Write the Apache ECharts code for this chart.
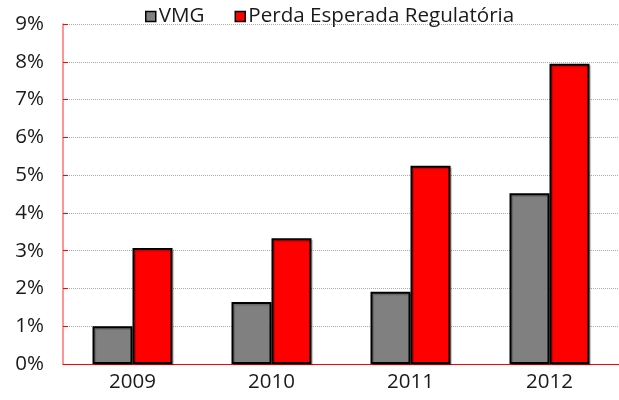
<!DOCTYPE html>
<html><head><meta charset="utf-8">
<script src="https://cdn.jsdelivr.net/npm/echarts@6/dist/echarts.min.js"></script>
<style>html,body{margin:0;padding:0;background:#fff}#c{width:619px;height:400px}</style>
</head><body><div id="c"></div>
<script>
const categories = ['2009', '2010', '2011', '2012'];
const vmg = [1.0, 1.64, 1.91, 4.52];
const perda = [3.07, 3.33, 5.25, 7.95];
const yTicks = [0, 1, 2, 3, 4, 5, 6, 7, 8, 9];
const seriesNames = ['VMG', 'Perda Esperada Regulatória'];

const font = '"Open Sans", "Noto Sans", sans-serif';
const chart = echarts.init(document.getElementById('c'), null, {renderer: 'canvas'});
chart.setOption({
  animation: false,
  legend: {
    top: 1, left: 140, itemWidth: 10, itemHeight: 10, itemGap: 30,
    textStyle: {fontFamily: font, fontSize: 20.6, color: '#1a1a1a', padding: [0,0,0,-2]},
    data: seriesNames.map(n => ({name: n, icon: 'rect', itemStyle: {borderColor: '#000', borderWidth: 1.5}}))
  },
  grid: {left: 63, right: 0, top: 24, bottom: 36},
  xAxis: {
    type: 'category', data: categories,
    axisLine: {lineStyle: {color: '#ff0000', width: 1}},
    axisTick: {show: false},
    axisLabel: {fontFamily: font, fontSize: 20.5, color: '#1a1a1a', margin: 8}
  },
  yAxis: {
    type: 'value', min: yTicks[0], max: yTicks[yTicks.length - 1], interval: 1,
    axisLine: {show: true, lineStyle: {color: '#ff7070', width: 1.5}},
    axisTick: {show: true, inside: true, length: 5, lineStyle: {color: '#ff0000'}},
    splitLine: {lineStyle: {color: '#aaa', type: [1, 1], width: 1}},
    axisLabel: {fontFamily: font, fontSize: 20.5, color: '#1a1a1a', margin: 19, formatter: v => v + '%'}
  },
  series: [
    {name: seriesNames[0], type: 'bar', data: vmg, barWidth: 40, barGap: '0%',
     itemStyle: {color: '#808080', borderColor: '#000', borderWidth: 2,
       shadowColor: 'rgba(0,0,0,0.2)', shadowOffsetX: 1.5, shadowOffsetY: 1.5, shadowBlur: 1}},
    {name: seriesNames[1], type: 'bar', data: perda, barWidth: 40, barGap: '0%',
     itemStyle: {color: '#ff0000', borderColor: '#000', borderWidth: 2,
       shadowColor: 'rgba(0,0,0,0.2)', shadowOffsetX: 1.5, shadowOffsetY: 1.5, shadowBlur: 1}}
  ]
});
</script></body></html>
